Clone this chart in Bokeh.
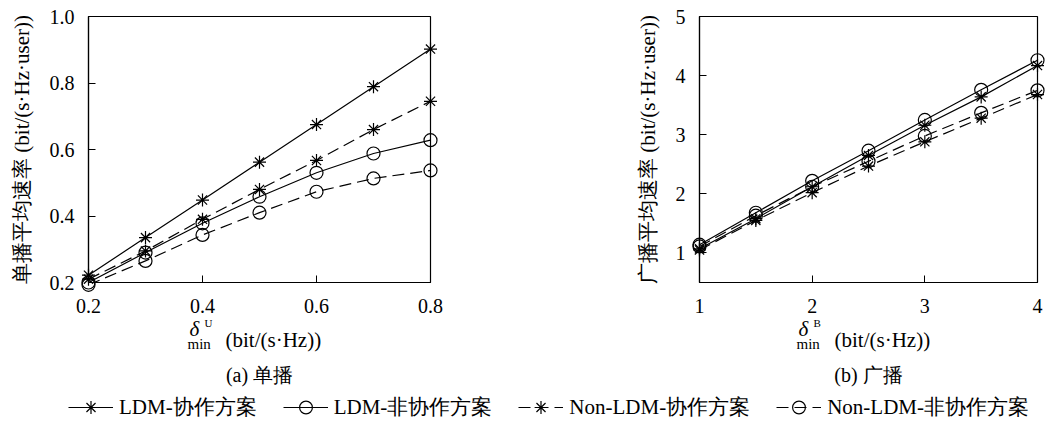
from bokeh.plotting import figure
from bokeh.layouts import column, row
from bokeh.models import NumeralTickFormatter, FixedTicker, Range1d, Legend, LegendItem
from bokeh.core.properties import value
from bokeh.embed import file_html
from bokeh.resources import INLINE

# ---------------- data ----------------
x_unicast = [0.2, 0.3, 0.4, 0.5, 0.6, 0.7, 0.8]
ldm_coop_u = [0.222, 0.335, 0.448, 0.562, 0.675, 0.789, 0.902]
ldm_noncoop_u = [0.200, 0.290, 0.378, 0.458, 0.530, 0.588, 0.628]
non_ldm_coop_u = [0.210, 0.295, 0.390, 0.480, 0.567, 0.660, 0.745]
non_ldm_noncoop_u = [0.193, 0.265, 0.343, 0.410, 0.473, 0.513, 0.537]

x_broadcast = [1.0, 1.5, 2.0, 2.5, 3.0, 3.5, 4.0]
ldm_coop_b = [1.07, 1.58, 2.12, 2.65, 3.16, 3.64, 4.17]
ldm_noncoop_b = [1.14, 1.68, 2.22, 2.73, 3.25, 3.76, 4.26]
non_ldm_coop_b = [1.05, 1.55, 2.02, 2.47, 2.88, 3.28, 3.68]
non_ldm_noncoop_b = [1.11, 1.63, 2.12, 2.55, 2.98, 3.37, 3.75]

series_names = ["LDM-协作方案", "LDM-非协作方案", "Non-LDM-协作方案", "Non-LDM-非协作方案"]
series_dash = ["solid", "solid", "12 6", "12 6"]
series_marker = ["asterisk", "circle", "asterisk", "circle"]

xticks_u = [0.2, 0.4, 0.6, 0.8]
yticks_u = [0.2, 0.4, 0.6, 0.8, 1.0]
xticks_b = [1, 2, 3, 4]
yticks_b = [1, 2, 3, 4, 5]

FONT = "Liberation Serif"


def style(p, xticks, yticks, ylabel):
    p.xgrid.visible = False
    p.ygrid.visible = False
    p.outline_line_color = "black"
    p.outline_line_width = 1.2
    for ax in (p.xaxis[0], p.yaxis[0]):
        ax.axis_line_color = "black"
        ax.axis_line_width = 1.2
        ax.major_tick_in = 7
        ax.major_tick_out = 0
        ax.minor_tick_line_color = None
        ax.major_tick_line_width = 1.0
        ax.major_label_text_font = FONT
        ax.major_label_text_font_size = "20px"
        ax.major_label_text_color = "black"
    p.xaxis[0].major_label_standoff = 16
    p.yaxis[0].major_label_standoff = 14
    p.xaxis[0].ticker = FixedTicker(ticks=xticks)
    p.yaxis[0].ticker = FixedTicker(ticks=yticks)
    p.yaxis[0].axis_label = ylabel
    p.yaxis[0].axis_label_text_font = FONT
    p.yaxis[0].axis_label_text_font_size = "21px"
    p.yaxis[0].axis_label_text_font_style = "normal"
    p.yaxis[0].axis_label_text_color = "black"
    p.yaxis[0].axis_label_standoff = 13


def draw(p, xs, ys_list):
    for ys, dash, marker in zip(ys_list, series_dash, series_marker):
        p.line(xs, ys, line_color="black", line_width=1.2, line_dash=dash)
        r = p.scatter(xs, ys, marker=marker, size=13, line_color="black",
                      fill_color=None, line_width=1.2)
        r.level = "overlay"


def put_text(p, xc, y0, txt, xo, yo, fs, st="normal", align="left", baseline="alphabetic"):
    r = p.text(x=[xc], y=[y0], text=[txt], x_offset=xo, y_offset=yo,
               text_font=value(FONT), text_font_size=fs, text_font_style=st,
               text_color="black", text_align=align, text_baseline=baseline)
    r.level = "overlay"


def xlabel(p, xc, y0, sup):
    put_text(p, xc, y0, "δ", -70, 46, "21px", "italic")
    put_text(p, xc, y0, "min", -72, 61, "15px")
    put_text(p, xc, y0, sup, -55, 40, "11px")
    put_text(p, xc, y0, "(bit/(s·Hz))", -34, 57, "21px")


def subtitle(p, xc, y0, txt):
    put_text(p, xc, y0, txt, 0, 92, "20px", align="center", baseline="middle")


# ---------------- (a) unicast ----------------
pa = figure(width=520, height=390, output_backend="svg", toolbar_location=None,
            x_range=Range1d(0.2, 0.8), y_range=Range1d(0.2, 1.0),
            min_border_left=88, min_border_right=90, min_border_top=16, min_border_bottom=108)
style(pa, xticks_u, yticks_u, "单播平均速率 (bit/(s·Hz·user))")
pa.yaxis[0].formatter = NumeralTickFormatter(format="0.0")
pa.xaxis[0].formatter = NumeralTickFormatter(format="0.0")
draw(pa, x_unicast, [ldm_coop_u, ldm_noncoop_u, non_ldm_coop_u, non_ldm_noncoop_u])
xlabel(pa, 0.5, 0.2, "U")
subtitle(pa, 0.5, 0.2, "(a) 单播")

# ---------------- (b) broadcast ----------------
pb = figure(width=526, height=390, output_backend="svg", toolbar_location=None,
            x_range=Range1d(1, 4), y_range=Range1d(0.5, 5),
            min_border_left=179, min_border_right=9, min_border_top=16, min_border_bottom=108)
style(pb, xticks_b, yticks_b, "广播平均速率 (bit/(s·Hz·user))")
draw(pb, x_broadcast, [ldm_coop_b, ldm_noncoop_b, non_ldm_coop_b, non_ldm_noncoop_b])
xlabel(pb, 2.5, 0.5, "B")
subtitle(pb, 2.5, 0.5, "(b) 广播")

# ---------------- legend ----------------
# legend proxies: real series drawn outside the (empty) view window
pl = figure(width=1046, height=33, output_backend="svg", toolbar_location=None,
            x_range=Range1d(10, 11), y_range=Range1d(10, 11), min_border=0,
            outline_line_color=None)
pl.xaxis.visible = False
pl.yaxis.visible = False
pl.xgrid.visible = False
pl.ygrid.visible = False
items = []
for name, ys, dash, marker in zip(series_names,
                                  [ldm_coop_u, ldm_noncoop_u, non_ldm_coop_u, non_ldm_noncoop_u],
                                  series_dash, series_marker):
    rl = pl.line(x=x_unicast, y=ys, line_color="black", line_width=1.2, line_dash=dash)
    rs = pl.scatter(x=x_unicast, y=ys, marker=marker, size=13, line_color="black",
                    fill_color=None, line_width=1.2)
    items.append(LegendItem(label=name, renderers=[rl, rs], index=0))
leg = Legend(items=items, orientation="horizontal", location=(68, 0),
             glyph_width=45, glyph_height=32, label_height=32, label_standoff=6,
             spacing=26, padding=0, margin=0, border_line_color=None,
             background_fill_alpha=0, label_text_font=FONT,
             label_text_font_size="21px", label_text_color="black")
pl.add_layout(leg)

layout = column(row(pa, pb), pl)
open("out.html", "w").write(file_html(layout, INLINE))
